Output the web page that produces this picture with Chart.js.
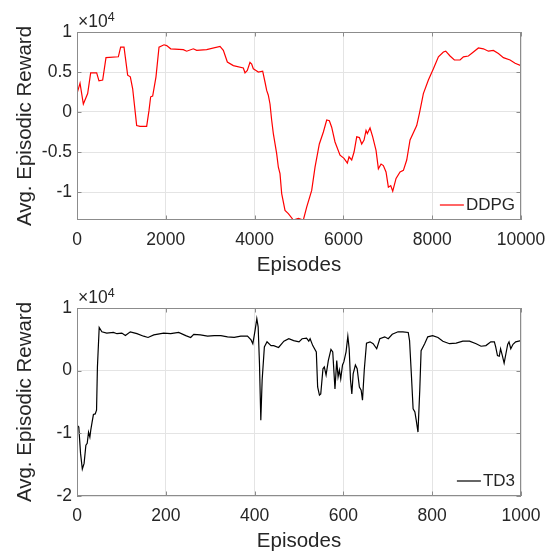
<!DOCTYPE html>
<html>
<head>
<meta charset="utf-8">
<script src="https://cdn.jsdelivr.net/npm/chart.js@4.4.0/dist/chart.umd.min.js"></script>
<style>
  html, body { margin: 0; padding: 0; background: #fff; }
  .panel { position: absolute; left: 0; width: 555px; height: 277px; }
  #top { top: 0; }
  #bottom { top: 276px; }
</style>
</head>
<body>
<div class="panel" id="top"><canvas id="ddpgChart" width="555" height="277"></canvas></div>
<div class="panel" id="bottom"><canvas id="td3Chart" width="555" height="277"></canvas></div>
<script>
// DDPG: episode / average episodic reward
const ddpgEpisodes = [
  0, 68, 143, 240, 308, 443, 495, 578, 653, 931,
  983, 1059, 1141, 1201, 1254, 1344, 1419, 1569, 1622, 1659,
  1704, 1779, 1847, 1960, 2020, 2110, 2395, 2470, 2620, 2695,
  2920, 3221, 3296, 3386, 3521, 3746, 3784, 3836, 3896, 3934,
  3971, 4032, 4084, 4182, 4234, 4272, 4309, 4347, 4384, 4422,
  4497, 4535, 4572, 4610, 4685, 4760, 4873, 4985, 5098, 5173,
  5286, 5361, 5458, 5549, 5624, 5684, 5736, 5811, 5924, 6014,
  6089, 6127, 6187, 6240, 6300, 6360, 6412, 6465, 6510, 6540,
  6600, 6660, 6735, 6788, 6848, 6900, 6960, 7013, 7066, 7111,
  7186, 7276, 7351, 7426, 7501, 7651, 7711, 7801, 7914, 8027,
  8140, 8252, 8305, 8402, 8500, 8628, 8703, 8815, 8928, 9041,
  9153, 9266, 9378, 9491, 9604, 9754, 9867, 10000
];
const ddpgReward = [
  2300, 3600, 1000, 2300, 4900, 4900, 3900, 4000, 6800, 6900,
  8100, 8100, 4600, 4400, 2900, -1700, -1800, -1800, 200, 1900,
  2000, 4400, 8100, 8400, 8300, 7900, 7800, 7600, 7900, 7700,
  7800, 8200, 7700, 6250, 5800, 5500, 4900, 5200, 6200, 6000,
  5400, 5200, 5000, 5100, 3750, 2700, 2100, 1000, -1000, -2700,
  -5200, -6900, -7700, -10200, -12300, -12700, -13500, -13300, -13500, -11900,
  -9800, -6900, -4000, -2500, -1000, -1100, -1900, -3750, -5400, -5800,
  -6400, -5600, -6000, -5000, -3100, -3200, -4000, -3500, -2300, -2700,
  -2000, -3100, -4800, -7100, -6500, -6700, -7500, -9400, -9200, -9900,
  -8300, -7500, -7300, -6000, -3500, -1700, -200, 2300, 4000, 5400,
  6900, 7500, 7600, 7000, 6500, 6500, 6900, 7000, 7500, 8000,
  7900, 7600, 7700, 7300, 6800, 6500, 6100, 5800
];

// TD3: episode / average episodic reward
const td3Episodes = [
  0, 4, 8, 12, 16, 20, 23, 26, 29, 31,
  34, 37, 41, 44, 46, 50, 56, 67, 82, 90,
  101, 109, 120, 135, 150, 160, 173, 195, 211, 229,
  245, 256, 263, 278, 294, 309, 324, 339, 354, 369,
  384, 392, 396, 401, 405, 408, 411, 414, 417, 422,
  428, 437, 443, 454, 466, 477, 488, 500, 507, 517,
  522, 525, 531, 539, 542, 546, 549, 554, 557, 561,
  566, 572, 576, 581, 585, 588, 591, 594, 598, 601,
  606, 610, 613, 616, 619, 622, 627, 631, 636, 640,
  643, 647, 652, 660, 667, 675, 682, 693, 701, 710,
  723, 734, 746, 749, 753, 757, 761, 764, 768, 772,
  775, 783, 790, 801, 813, 824, 839, 854, 869, 884,
  899, 910, 921, 932, 940, 943, 947, 951, 954, 958,
  962, 966, 970, 973, 977, 982, 988, 1000
];
const td3Reward = [
  -8700, -9000, -13200, -15700, -14800, -11900, -11600, -9800, -10600, -9500,
  -8200, -7000, -6900, -6300, 600, 6900, 6200, 6000, 6100, 5900,
  6000, 5600, 6200, 5900, 5500, 5300, 5700, 6000, 5900, 6100,
  5600, 5300, 5800, 5700, 5500, 5600, 5600, 5400, 5300, 5500,
  5500, 4900, 4300, 6400, 8300, 7000, 1100, -7900, -1500, 3800,
  4600, 4000, 4000, 3700, 4700, 5100, 4800, 4600, 5100, 5200,
  4700, 5100, 4000, 3000, -2600, -3900, -3700, 300, 600, -700,
  1600, 3400, 3000, -2900, 1600, -1000, 100, -1300, 900, 1400,
  3000, 5500, 3500, -1500, -3700, -500, 900, 300, -2600, -3100,
  -4700, 100, 4400, 4600, 4300, 3500, 5100, 5400, 5100, 5800,
  6200, 6200, 6100, 4800, -500, -6100, -6600, -7900, -9800, -3100,
  3200, 4300, 5400, 5600, 5300, 4700, 4300, 4400, 4700, 4700,
  4300, 3900, 4000, 4600, 4600, 3800, 2400, 2300, 3500, 2400,
  1200, 2700, 4200, 4600, 3500, 4200, 4600, 4800
];

const ddpgXTicks = [0, 2000, 4000, 6000, 8000, 10000];
const ddpgYTicks = [-10000, -5000, 0, 5000, 10000];
const td3XTicks = [0, 200, 400, 600, 800, 1000];
const td3YTicks = [-20000, -10000, 0, 10000];

const FONT = '"Liberation Sans", Arial, Helvetica, sans-serif';
const TEXT = '#262626';
const AXIS = '#8c8c8c';
const GRID = '#e4e4e4';

// box, inward tick marks, x10^4 label and legend, MATLAB style
const matlabFrame = {
  id: 'matlabFrame',
  afterDatasetsDraw(chart, args, opts) {
    const { ctx, chartArea: a } = chart;
    const sx = chart.scales.x, sy = chart.scales.y;
    ctx.save();
    ctx.strokeStyle = AXIS;
    ctx.lineWidth = 1;
    ctx.strokeRect(a.left + 0.5, a.top + 0.5, a.right - a.left - 1, a.bottom - a.top - 1);
    ctx.beginPath();
    sx.ticks.forEach(t => {
      const px = Math.round(sx.getPixelForValue(t.value)) + 0.5;
      ctx.moveTo(px, a.bottom); ctx.lineTo(px, a.bottom - 4.5);
      ctx.moveTo(px, a.top); ctx.lineTo(px, a.top + 4.5);
    });
    sy.ticks.forEach(t => {
      const py = Math.round(sy.getPixelForValue(t.value)) + 0.5;
      ctx.moveTo(a.left, py); ctx.lineTo(a.left + 4.5, py);
      ctx.moveTo(a.right, py); ctx.lineTo(a.right - 4.5, py);
    });
    ctx.stroke();

    ctx.fillStyle = TEXT;
    ctx.textBaseline = 'alphabetic';
    ctx.font = '17.5px ' + FONT;
    ctx.fillText('\u00d710', a.left + 1, a.top - 5.5);
    const w = ctx.measureText('\u00d710').width;
    ctx.font = '12.5px ' + FONT;
    ctx.fillText('4', a.left + 1 + w, a.top - 11.5);

    ctx.font = '17px ' + FONT;
    ctx.textBaseline = 'middle';
    const tw = ctx.measureText(opts.label).width;
    const tx = a.right - 6 - tw;
    const ly = a.bottom - 15;
    ctx.fillText(opts.label, tx, ly);
    ctx.strokeStyle = opts.color;
    ctx.lineWidth = 1.2;
    ctx.beginPath();
    ctx.moveTo(tx - 26, ly); ctx.lineTo(tx - 2, ly);
    ctx.stroke();
    ctx.restore();
  }
};

function makeChart(id, episodes, reward, color, label, xTicks, yTicks, xMax, yMin, yMax) {
  return new Chart(document.getElementById(id), {
    type: 'line',
    data: {
      datasets: [{
        label: label,
        data: episodes.map((e, i) => ({ x: e, y: reward[i] })),
        borderColor: color,
        borderWidth: 1.2,
        pointRadius: 0,
        tension: 0,
        fill: false
      }]
    },
    options: {
      responsive: false,
      animation: false,
      devicePixelRatio: 1,
      layout: { padding: { top: 32, right: 34, bottom: 0, left: 0 } },
      plugins: {
        legend: { display: false },
        tooltip: { enabled: false },
        matlabFrame: { label: label, color: color }
      },
      scales: {
        x: {
          type: 'linear',
          min: 0,
          max: xMax,
          afterBuildTicks: s => { s.ticks = xTicks.map(v => ({ value: v })); },
          afterFit: s => { s.height = 57; },
          grid: { color: GRID, drawTicks: false },
          border: { display: false },
          ticks: { color: TEXT, padding: 9.5, maxRotation: 0, font: { family: FONT, size: 17.5 }, callback: v => String(v) },
          title: {
            display: true, text: 'Episodes', color: TEXT,
            padding: { top: 0, bottom: 0 },
            font: { family: FONT, size: 20.5, lineHeight: 1.15 }
          }
        },
        y: {
          min: yMin,
          max: yMax,
          afterBuildTicks: s => { s.ticks = yTicks.map(v => ({ value: v })); },
          afterFit: s => { s.width = 77; },
          grid: { color: GRID, drawTicks: false },
          border: { display: false },
          ticks: { color: TEXT, padding: 5, font: { family: FONT, size: 17.5 }, callback: v => String(v / 10000) },
          title: {
            display: true, text: 'Avg. Episodic Reward', color: TEXT,
            padding: { top: 12.7, bottom: 0 },
            font: { family: FONT, size: 20.5, lineHeight: 1.2 }
          }
        }
      }
    },
    plugins: [matlabFrame]
  });
}

makeChart('ddpgChart', ddpgEpisodes, ddpgReward, '#ff0000', 'DDPG', ddpgXTicks, ddpgYTicks, 10000, -13500, 10000);
makeChart('td3Chart', td3Episodes, td3Reward, '#000000', 'TD3', td3XTicks, td3YTicks, 1000, -20000, 10000);
</script>
</body>
</html>
